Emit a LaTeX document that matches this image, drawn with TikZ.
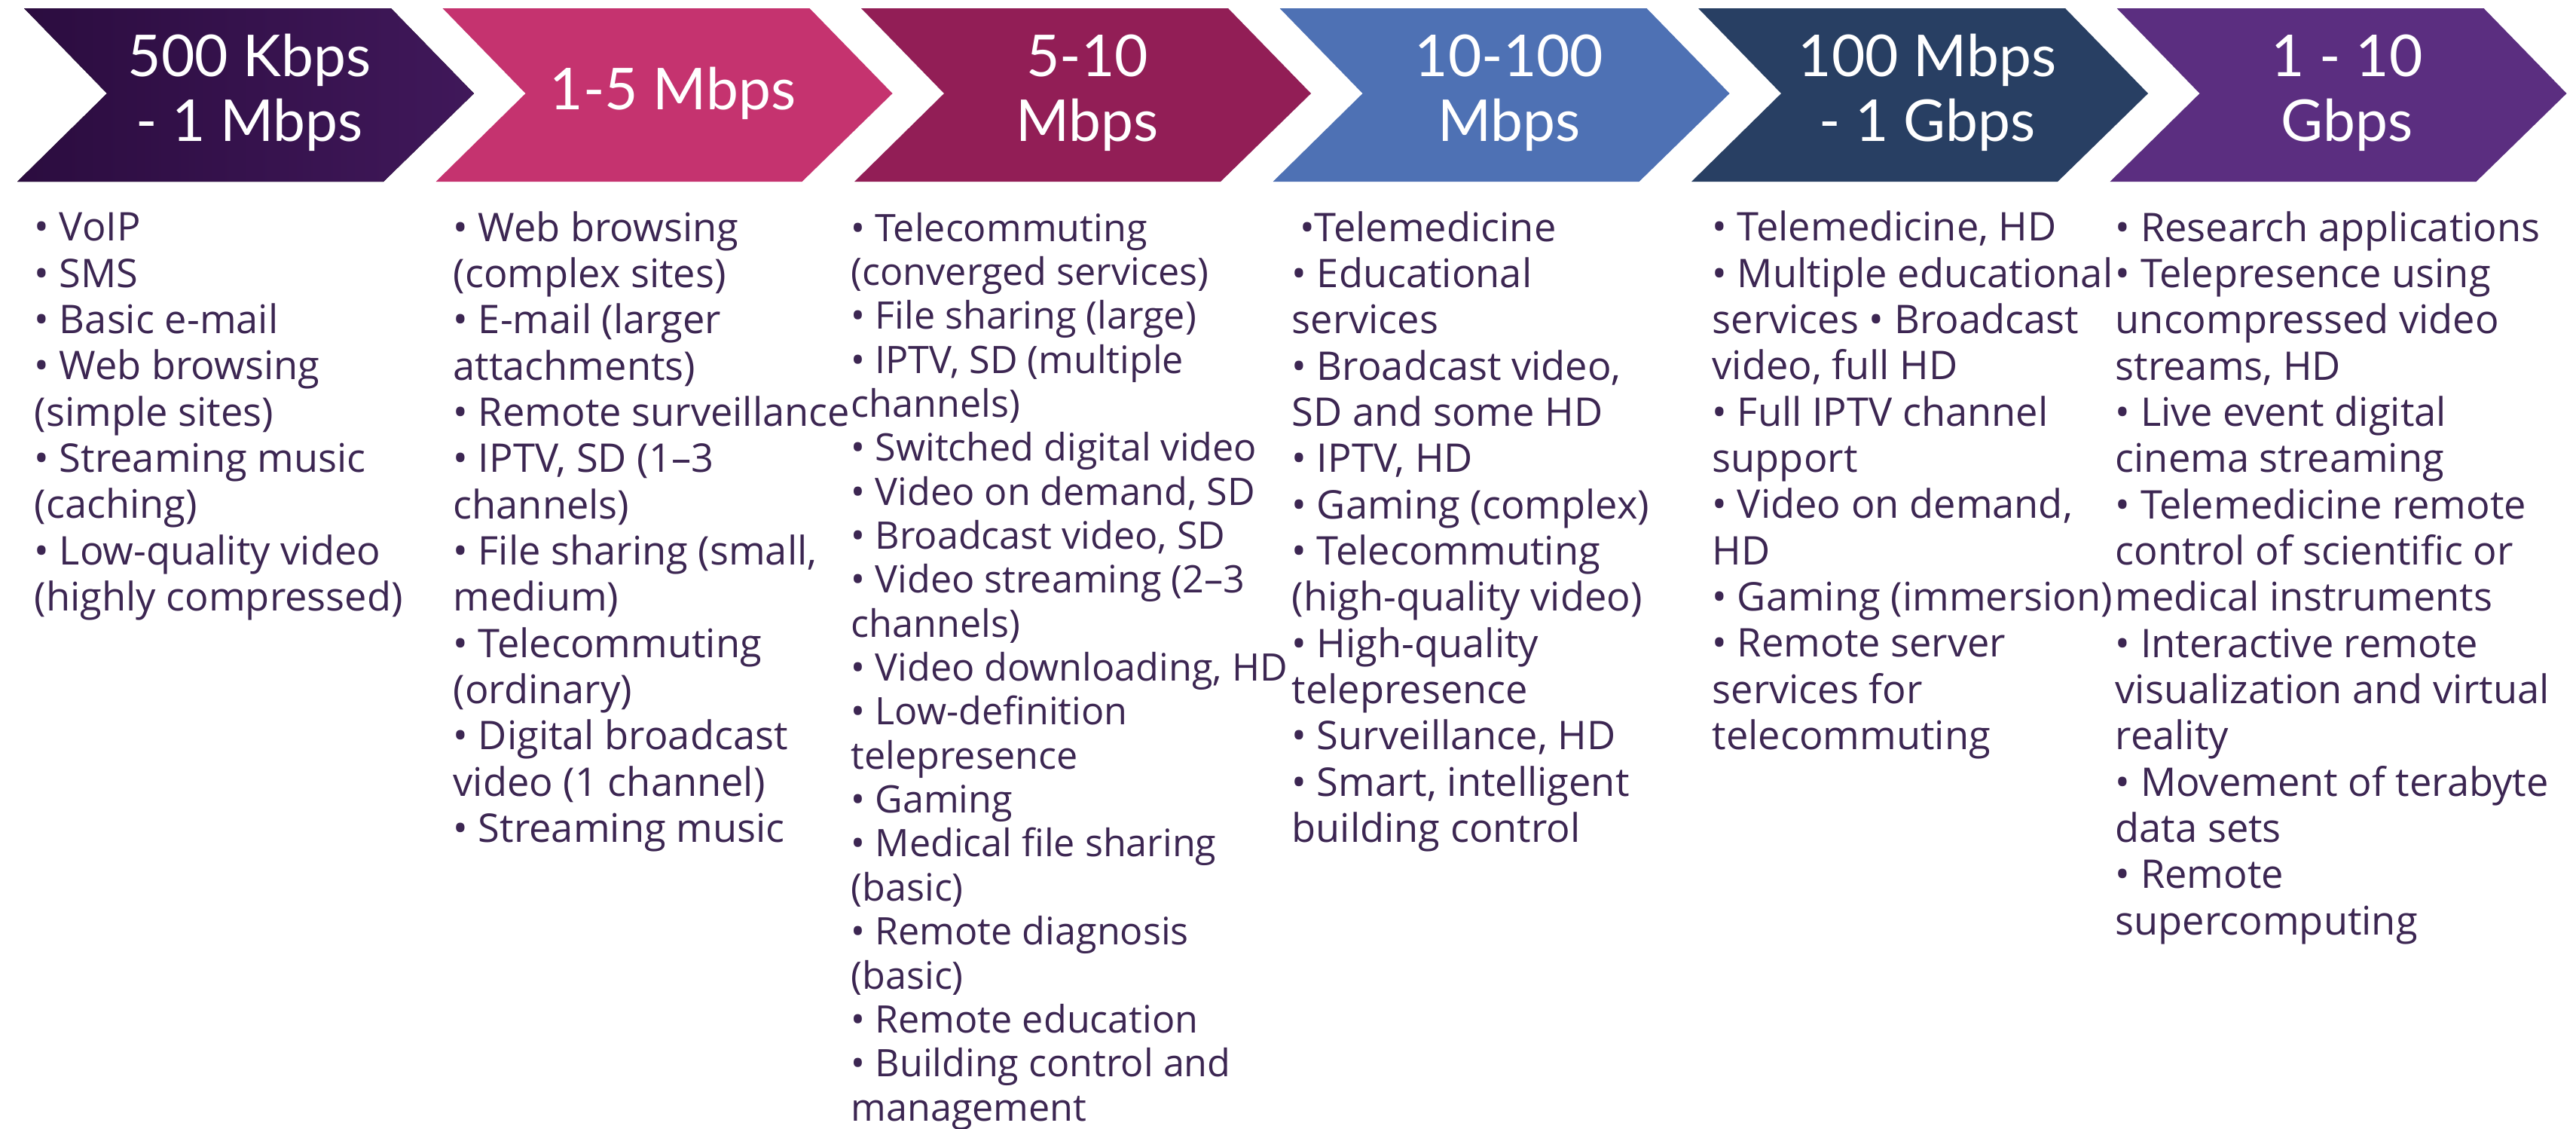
\documentclass[tikz,border=0pt]{standalone}
\usepackage{fontspec}
\setmainfont{Open Sans}
\newfontfamily\headfont{Lato}
\usepackage{tikz}

\definecolor{bandA}{RGB}{43,12,63}
\definecolor{bandAA}{RGB}{64,24,90}
\definecolor{bandB}{RGB}{197,51,111}
\definecolor{bandC}{RGB}{146,30,86}
\definecolor{bandD}{RGB}{78,113,180}
\definecolor{bandE}{RGB}{40,63,99}
\definecolor{bandF}{RGB}{91,46,128}
\definecolor{itemtext}{RGB}{60,38,82}

% multi-line nodes sit on the baseline of their last line
\tikzset{
  head/.style={anchor=base, align=center, text=white, inner sep=0pt,
    font=\headfont\fontsize{21.8}{24.2}\selectfont},
  items/.style={anchor=base west, align=left, text=itemtext, inner sep=0pt,
    font=\fontsize{14.9}{17.45}\selectfont},
  itemsnarrow/.style={items, font=\fontsize{14.3}{16.6}\selectfont}
}

\begin{document}
\begin{tikzpicture}

\useasboundingbox (0,0) rectangle (34.19,-14.97);

% the six rate bands
\fill[left color=bandA, right color=bandAA] (0.32,-0.11) -- ++(4.87,0) -- ++(1.1,-1.13) -- ++(-1.2,-1.17) -- ++(-4.86,0) -- ++(1.19,1.17) -- cycle;
\fill[bandB] (5.875,-0.11) -- ++(4.87,0) -- ++(1.1,-1.13) -- ++(-1.2,-1.17) -- ++(-4.86,0) -- ++(1.19,1.17) -- cycle;
\fill[bandC] (11.43,-0.11) -- ++(4.87,0) -- ++(1.1,-1.13) -- ++(-1.2,-1.17) -- ++(-4.86,0) -- ++(1.19,1.17) -- cycle;
\fill[bandD] (16.985,-0.11) -- ++(4.87,0) -- ++(1.1,-1.13) -- ++(-1.2,-1.17) -- ++(-4.86,0) -- ++(1.19,1.17) -- cycle;
\fill[bandE] (22.54,-0.11) -- ++(4.87,0) -- ++(1.1,-1.13) -- ++(-1.2,-1.17) -- ++(-4.86,0) -- ++(1.19,1.17) -- cycle;
\fill[bandF] (28.095,-0.11) -- ++(4.87,0) -- ++(1.1,-1.13) -- ++(-1.2,-1.17) -- ++(-4.86,0) -- ++(1.19,1.17) -- cycle;

\node[head] (rate1) at (3.31,-1.87) {500 Kbps\\- 1 Mbps};
\node[head] (rate2) at (8.93,-1.45) {1-5 Mbps};
\node[head] (rate3) at (14.43,-1.87) {5-10\\Mbps};
\node[head] (rate4) at (20.03,-1.87) {10-100\\Mbps};
\node[head] (rate5) at (25.58,-1.87) {100 Mbps\\- 1 Gbps};
\node[head] (rate6) at (31.15,-1.87) {1 - 10\\Gbps};

% applications for each band
\node[items] (apps1) at (0.45,-8.106) {• VoIP\\• SMS\\• Basic e-mail\\• Web browsing\\(simple sites)\\• Streaming music\\(caching)\\• Low-quality video\\(highly compressed)};

\node[items] (apps2) at (6.01,-11.173) {• Web browsing\\(complex sites)\\• E-mail (larger\\attachments)\\• Remote surveillance\\• IPTV, SD (1–3\\channels)\\• File sharing (small,\\medium)\\• Telecommuting\\(ordinary)\\• Digital broadcast\\video (1 channel)\\• Streaming music};

\node[itemsnarrow] (apps3) at (11.29,-14.87) {• Telecommuting\\(converged services)\\• File sharing (large)\\• IPTV, SD (multiple\\channels)\\• Switched digital video\\• Video on demand, SD\\• Broadcast video, SD\\• Video streaming (2–3\\channels)\\• Video downloading, HD\\• Low-definition\\telepresence\\• Gaming\\• Medical file sharing\\(basic)\\• Remote diagnosis\\(basic)\\• Remote education\\• Building control and\\management};

\node[items] (apps4) at (17.14,-11.173) {\hspace*{0.2em}•Telemedicine\\• Educational\\services\\• Broadcast video,\\SD and some HD\\• IPTV, HD\\• Gaming (complex)\\• Telecommuting\\(high-quality video)\\• High-quality\\telepresence\\• Surveillance, HD\\• Smart, intelligent\\building control};

\node[items] (apps5) at (22.72,-9.946) {• Telemedicine, HD\\• Multiple educational\\services • Broadcast\\video, full HD\\• Full IPTV channel\\support\\• Video on demand,\\HD\\• Gaming (immersion)\\• Remote server\\services for\\telecommuting};

\node[items] (apps6) at (28.07,-12.40) {• Research applications\\• Telepresence using\\uncompressed video\\streams, HD\\• Live event digital\\cinema streaming\\• Telemedicine remote\\control of scientific or\\medical instruments\\• Interactive remote\\visualization and virtual\\reality\\• Movement of terabyte\\data sets\\• Remote\\supercomputing};

\end{tikzpicture}
\end{document}
